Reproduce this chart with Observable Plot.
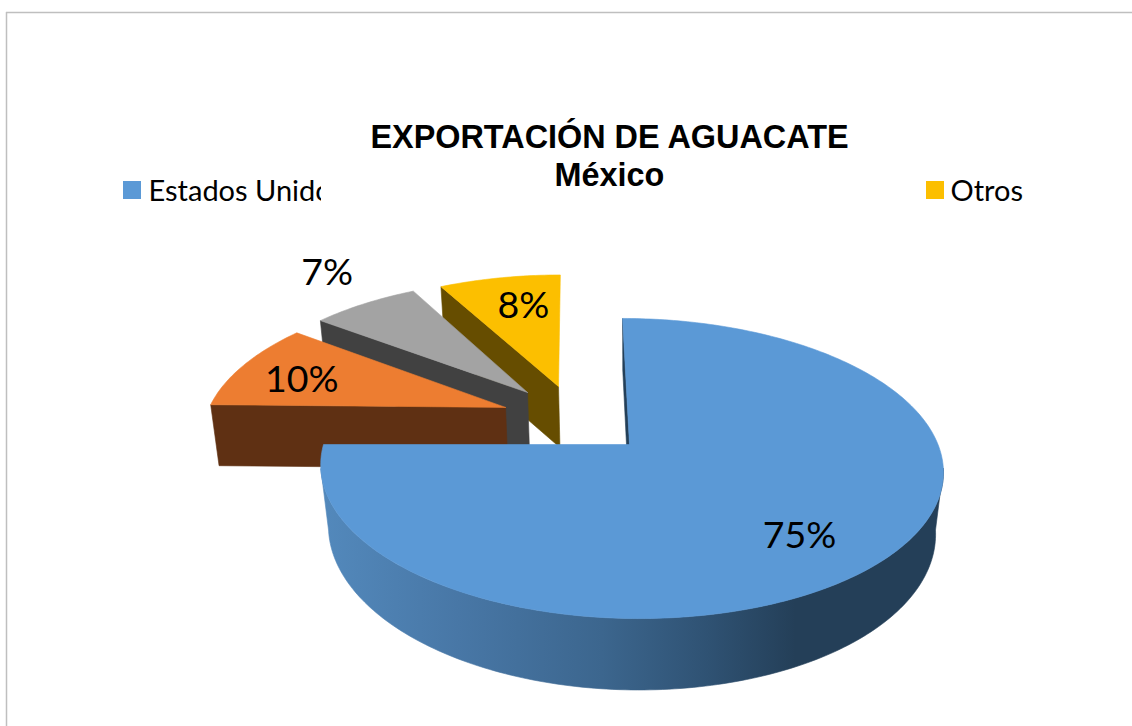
<!DOCTYPE html>
<html lang="es">
<head>
<meta charset="utf-8">
<title>Exportación de aguacate</title>
<script src="https://cdn.jsdelivr.net/npm/d3@7"></script>
<script src="https://cdn.jsdelivr.net/npm/@observablehq/plot@0.6"></script>
<style>
html,body{margin:0;padding:0;background:#fff;}
svg{display:block;}
</style>
</head>
<body>
<div id="chart"></div>
<script>
// Data
const sliceKeys = ["Estados Unidos", "Segundo destino", "Tercer destino", "Otros"];
const sliceValues = [75, 10, 7, 8];
const legendNames = ["Estados Unidos", "Otros"];
const titleLines = ["EXPORTACIÓN DE AGUACATE", "México"];

// Styling
const topColors = ["#5b99d6", "#ed7d31", "#a3a3a3", "#fcbf00"];
const wallColors = ["#243f58", "#5f3013", "#414141", "#664d00"];
const explodeU = [0, -0.416, -0.345, -0.238];
const explodeV = [0, 0.26, 0.372, 0.418];
const rimShiftU = [0, -0.01, -0.01, -0.01];
const rimShiftV = [0, 0.02, 0.02, 0.02];
const labelAngle = [139.6, 286.2, 321.5, 347.9];
const labelRadius = [0.75, 0.762, 1.396, 0.715];
const gradientStops = [[0, "#5389bc"], [0.22, "#4877a6"], [0.45, "#3c668e"], [0.62, "#2f5273"], [0.76, "#243f58"], [1, "#243f58"]];

// Tilted-plane projection of the pie
const cx = 629, cy = 444, skew = 8;
const perspBy = [0.16, 0.187, 0.187, 0.187];
const ryBy = [146.2, 149.6, 149.6, 149.6];
const rxLeftBy = [306, 307.5, 307.5, 307.5];
const rxRightBy = [308.5, 307.5, 307.5, 307.5];
const depthBy = [60, 61, 61, 61];
const depthPerspective = [true, false, false, false];
const shrinkBy = [0.975, 0.98, 0.98, 0.98];
const factor = (v, i) => 1 / (1 + perspBy[i] * v);
function project(u, v, i) {
  const s = factor(v, i);
  const rx = u < 0 ? rxLeftBy[i] : rxRightBy[i];
  return [cx + s * (rx * u - skew * v), cy - s * ryBy[i] * v];
}
const rad = (d) => d * Math.PI / 180;
const total = d3.sum(sliceValues);
const cum = d3.cumsum(sliceValues);
const slices = sliceKeys.map((key, i) => ({
  key, i, value: sliceValues[i],
  a0: ((i ? cum[i - 1] : 0) / total) * 360,
  a1: (cum[i] / total) * 360,
  du: explodeU[i], dv: explodeV[i]
}));
const rimUV = (s, deg) => [s.du + rimShiftU[s.i] + Math.sin(rad(deg)), s.dv + rimShiftV[s.i] + Math.cos(rad(deg))];
const rim = (s, deg) => { const [u, v] = rimUV(s, deg); return project(u, v, s.i); };
const apex = (s) => project(s.du, s.dv, s.i);
const angles = (a0, a1) => d3.range(a0, a1, 1).concat([a1]);
const surface = (s) => [apex(s), ...angles(s.a0, s.a1).map((a) => rim(s, a))];
// A point of the pie's underside, below a top-surface point
const drop = (s, u, v) => {
  const [x, y] = project(u, v, s.i);
  const d = depthBy[s.i] * (depthPerspective[s.i] ? factor(v, s.i) : 1);
  return [cx + (x - cx) * shrinkBy[s.i], y + d];
};
// The flat cut wall that hangs from an edge
const cutWall = (s, deg) => [apex(s), rim(s, deg), drop(s, ...rimUV(s, deg)), drop(s, s.du, s.dv)];
// The curved wall, between the two silhouette angles of the tilted ellipse
const outerWall = (s, a0, a1) => {
  const as = angles(a0, a1);
  return [...as.map((a) => rim(s, a)), ...as.map((a) => drop(s, ...rimUV(s, a))).reverse()];
};
const poly = (pts, fill) => Plot.line([...pts, pts[0]], {
  x: (d) => d[0], y: (d) => d[1], fill, stroke: fill, strokeWidth: 0.6, curve: "linear"
});
const silhouette = Math.acos(-perspBy[0]) * 180 / Math.PI;
const labelPoint = (s) => project(
  s.du + labelRadius[s.i] * Math.sin(rad(labelAngle[s.i])),
  s.dv + labelRadius[s.i] * Math.cos(rad(labelAngle[s.i])),
  s.i
);

const [blue, orange, gray, yellow] = slices;
const marks = [
  () => {
    const ns = "http://www.w3.org/2000/svg";
    const defs = document.createElementNS(ns, "defs");
    const g = document.createElementNS(ns, "linearGradient");
    g.setAttribute("id", "blueWall");
    g.setAttribute("gradientUnits", "userSpaceOnUse");
    g.setAttribute("x1", 320); g.setAttribute("x2", 945);
    g.setAttribute("y1", 0); g.setAttribute("y2", 0);
    gradientStops.forEach(([o, c]) => {
      const st = document.createElementNS(ns, "stop");
      st.setAttribute("offset", o); st.setAttribute("stop-color", c);
      g.appendChild(st);
    });
    defs.appendChild(g);
    return defs;
  },
  // frame
  Plot.ruleY([12], {x1: 6, x2: 1132, stroke: "#bfbfbf", strokeWidth: 1.5}),
  Plot.ruleX([6], {y1: 12, y2: 726, stroke: "#bfbfbf", strokeWidth: 1.5}),
  // yellow, gray, orange slices, back to front
  poly(cutWall(yellow, yellow.a0), wallColors[3]),
  poly(surface(yellow), topColors[3]),
  poly(cutWall(gray, gray.a0), wallColors[2]),
  poly(surface(gray), topColors[2]),
  poly(cutWall(orange, orange.a0), wallColors[1]),
  poly(surface(orange), topColors[1]),
  // blue slice
  poly(cutWall(blue, 0), wallColors[0]),
  poly(outerWall(blue, silhouette, 360 - silhouette), "url(#blueWall)"),
  poly(surface(blue), topColors[0]),
  // percentage labels
  Plot.text(slices, {
    x: (s) => labelPoint(s)[0],
    y: (s) => labelPoint(s)[1],
    text: (s) => `${s.value}%`,
    fontFamily: "Lato", fontSize: 37.5, fill: "#000", textAnchor: "middle", lineAnchor: "middle"
  }),
  // legend
  Plot.rect(legendNames, {
    x1: (d, i) => [123, 926][i], x2: (d, i) => [141, 944][i], y1: 181, y2: 199,
    fill: (d) => topColors[sliceKeys.indexOf(d)]
  }),
  Plot.text(legendNames, {
    x: (d, i) => [148, 950][i], y: 191, text: (d) => d,
    fontFamily: "Lato", fontSize: 29, fill: "#000", textAnchor: "start", lineAnchor: "middle"
  }),
  // title box sits on top of the legend and cuts it
  Plot.rect([0], {x1: 321, x2: 921, y1: 172, y2: 210, fill: "#fff"}),
  Plot.text(titleLines, {
    x: 609, y: (d, i) => [137.5, 175.5][i], text: (d) => d,
    fontFamily: "Liberation Sans", fontWeight: "bold", fontSize: 32.4, fill: "#000",
    textAnchor: "middle", lineAnchor: "middle"
  })
];

const chart = Plot.plot({
  width: 1132, height: 726,
  margin: 0,
  x: {domain: [0, 1132], range: [0, 1132], axis: null},
  y: {domain: [0, 726], range: [0, 726], axis: null},
  color: {type: "identity"},
  style: {background: "#fff"},
  marks
});
document.getElementById("chart").appendChild(chart);
</script>
</body>
</html>
